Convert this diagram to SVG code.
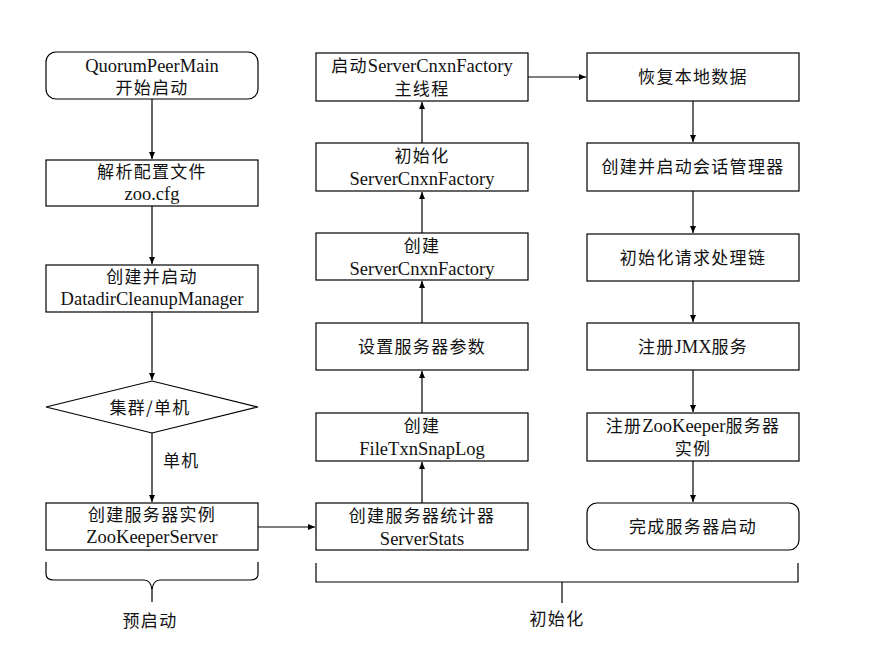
<svg xmlns="http://www.w3.org/2000/svg" width="878" height="651" viewBox="0 0 878 651">
<style>
.box{fill:#fff;stroke:#000;stroke-width:1.2}
.ln{fill:none;stroke:#000;stroke-width:1.2}
text{font-family:"Liberation Serif","Noto Sans CJK SC",serif;font-size:18.5px;fill:#111;text-anchor:middle}
.cn{font-family:"Noto Sans CJK SC","Liberation Sans",sans-serif;font-size:17px;letter-spacing:1.3px}
</style>
<defs>
<marker id="ar" markerWidth="8" markerHeight="8" refX="7" refY="4" orient="auto" markerUnits="userSpaceOnUse">
<path d="M0,1 L7,4 L0,7 Z" fill="#000"/>
</marker>
</defs>
<rect width="878" height="651" fill="#fff"/>
<g id="connectors">
<line class="ln" x1="152" y1="99" x2="152" y2="159" marker-end="url(#ar)"/>
<line class="ln" x1="152" y1="206" x2="152" y2="264" marker-end="url(#ar)"/>
<line class="ln" x1="152" y1="312" x2="152" y2="380" marker-end="url(#ar)"/>
<line class="ln" x1="152" y1="433" x2="152" y2="502" marker-end="url(#ar)"/>
<line class="ln" x1="258" y1="527" x2="315" y2="527" marker-end="url(#ar)"/>
<line class="ln" x1="422" y1="503" x2="422" y2="462" marker-end="url(#ar)"/>
<line class="ln" x1="422" y1="413" x2="422" y2="371" marker-end="url(#ar)"/>
<line class="ln" x1="422" y1="323" x2="422" y2="281" marker-end="url(#ar)"/>
<line class="ln" x1="422" y1="233" x2="422" y2="192" marker-end="url(#ar)"/>
<line class="ln" x1="422" y1="143" x2="422" y2="102" marker-end="url(#ar)"/>
<line class="ln" x1="528" y1="77" x2="586" y2="77" marker-end="url(#ar)"/>
<line class="ln" x1="693" y1="101" x2="693" y2="142" marker-end="url(#ar)"/>
<line class="ln" x1="693" y1="191" x2="693" y2="233" marker-end="url(#ar)"/>
<line class="ln" x1="693" y1="281" x2="693" y2="322" marker-end="url(#ar)"/>
<line class="ln" x1="693" y1="370" x2="693" y2="412" marker-end="url(#ar)"/>
<line class="ln" x1="693" y1="461" x2="693" y2="502" marker-end="url(#ar)"/>
<text class="cn" x="163" y="467" style="text-anchor:start">单机</text>
</g>
<g id="n1"><rect class="box" x="46" y="52" width="212" height="47" rx="10"/><text x="152" y="72">QuorumPeerMain</text><text class="cn" x="152" y="94">开始启动</text></g>
<g id="n2"><rect class="box" x="46" y="160" width="212" height="46"/><text class="cn" x="152" y="178">解析配置文件</text><text x="152" y="200">zoo.cfg</text></g>
<g id="n3"><rect class="box" x="46" y="265" width="212" height="47"/><text class="cn" x="152" y="283">创建并启动</text><text x="152" y="305">DatadirCleanupManager</text></g>
<g id="n4"><polygon class="box" points="46,407 152,381 258,407 152,433"/><text class="cn" x="150" y="414">集群/单机</text></g>
<g id="n5"><rect class="box" x="46" y="503" width="212" height="47"/><text class="cn" x="152" y="521">创建服务器实例</text><text x="152" y="543">ZooKeeperServer</text></g>
<g id="m1"><rect class="box" x="316" y="53" width="212" height="48"/><text x="422" y="72"><tspan class="cn">启动</tspan>ServerCnxnFactory</text><text class="cn" x="422" y="95">主线程</text></g>
<g id="m2"><rect class="box" x="316" y="143" width="212" height="48"/><text class="cn" x="422" y="162">初始化</text><text x="422" y="185">ServerCnxnFactory</text></g>
<g id="m3"><rect class="box" x="316" y="233" width="212" height="47"/><text class="cn" x="422" y="252">创建</text><text x="422" y="275">ServerCnxnFactory</text></g>
<g id="m4"><rect class="box" x="316" y="323" width="212" height="47"/><text class="cn" x="422" y="353">设置服务器参数</text></g>
<g id="m5"><rect class="box" x="316" y="413" width="212" height="48"/><text class="cn" x="422" y="432">创建</text><text x="422" y="455">FileTxnSnapLog</text></g>
<g id="m6"><rect class="box" x="316" y="503" width="212" height="47"/><text class="cn" x="422" y="522">创建服务器统计器</text><text x="422" y="545">ServerStats</text></g>
<g id="r1"><rect class="box" x="587" y="53" width="212" height="48"/><text class="cn" x="693" y="83">恢复本地数据</text></g>
<g id="r2"><rect class="box" x="587" y="143" width="212" height="48"/><text class="cn" x="693" y="173">创建并启动会话管理器</text></g>
<g id="r3"><rect class="box" x="587" y="234" width="212" height="47"/><text class="cn" x="693" y="264">初始化请求处理链</text></g>
<g id="r4"><rect class="box" x="587" y="323" width="212" height="47"/><text x="693" y="353"><tspan class="cn">注册</tspan>JMX<tspan class="cn">服务</tspan></text></g>
<g id="r5"><rect class="box" x="587" y="413" width="212" height="48"/><text x="693" y="432"><tspan class="cn">注册</tspan>ZooKeeper<tspan class="cn">服务器</tspan></text><text class="cn" x="693" y="455">实例</text></g>
<g id="r6"><rect class="box" x="587" y="503" width="212" height="47" rx="10"/><text class="cn" x="693" y="533">完成服务器启动</text></g>
<g id="brace1"><path class="ln" d="M46,562 L46,574 Q46,580 54,580 L144,580 Q151,580 152,590 L152,602 M152,590 Q153,580 160,580 L250,580 Q258,580 258,574 L258,562"/><text class="cn" x="150" y="627">预启动</text></g>
<g id="brace2"><path class="ln" d="M316,563 L316,582 L798,582 L798,563 M562,582 L562,603"/><text class="cn" x="557" y="625">初始化</text></g>
</svg>
